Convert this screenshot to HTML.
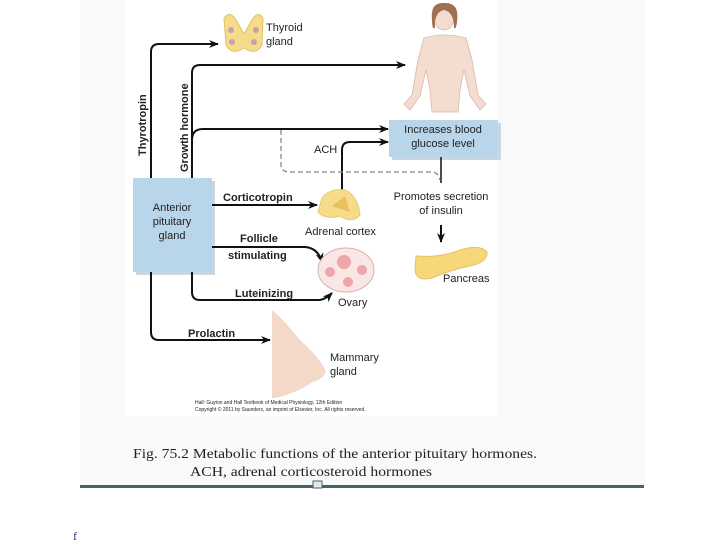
<!DOCTYPE html>
<html><head><meta charset="utf-8"><style>
body{margin:0;width:720px;height:540px;background:#fff;overflow:hidden}
svg{display:block}
.s{font-family:"Liberation Sans",sans-serif;fill:#222}
.b{font-weight:bold}
</style></head><body>
<svg width="720" height="540" viewBox="0 0 720 540">
<defs><marker id="a" markerWidth="10" markerHeight="8" refX="9" refY="4" orient="auto" markerUnits="userSpaceOnUse"><path d="M0,0 L10,4 L0,8 L3,4z" fill="#111"/></marker></defs>
<rect x="80" y="0" width="565" height="486" fill="#f8f9f9"/>
<rect x="125" y="0" width="372" height="416" fill="#fff"/>
<rect x="80" y="485" width="564" height="3" fill="#4b5f66"/>
<rect x="313" y="481" width="9" height="7" fill="#dfeaf0" stroke="#4b5f66" stroke-width="1"/>
<text x="73" y="540" font-size="12" fill="#223399" font-family="Liberation Serif">f</text>

<!-- woman -->
<g fill="#f3ddd0" stroke="#d9b8a8" stroke-width="0.8">
<path d="M424,38 Q445,32 466,38 L472,60 L478,95 L486,104 L480,110 L470,96 L464,70 L460,90 L458,112 L432,112 L430,90 L426,70 L420,96 L410,110 L404,104 L412,95 L418,60z"/>
<ellipse cx="444" cy="18" rx="10" ry="12"/>
</g>
<path d="M432,20 Q430,2 444,3 Q460,2 457,22 Q456,30 454,28 Q454,12 444,10 Q434,12 435,28 Q432,30 432,20z" fill="#a07050"/>

<!-- thyroid -->
<path d="M224,18 Q230,10 236,20 L244,34 L252,20 Q258,10 263,18 L262,45 Q256,56 244,48 Q232,56 226,45z" fill="#f6dc8a" stroke="#e0c060" stroke-width="1"/>
<g fill="#c9a0a8"><circle cx="231" cy="30" r="3"/><circle cx="256" cy="30" r="3"/><circle cx="232" cy="42" r="3"/><circle cx="254" cy="42" r="3"/></g>
<text class="s" x="266" y="31" font-size="11">Thyroid</text>
<text class="s" x="266" y="45" font-size="11">gland</text>

<!-- boxes -->
<rect x="136" y="181" width="79" height="94" fill="#c9d7e2"/>
<rect x="133" y="178" width="79" height="94" fill="#b9d5ea"/>
<text class="s" x="172" y="211" font-size="11" text-anchor="middle">Anterior</text>
<text class="s" x="172" y="225" font-size="11" text-anchor="middle">pituitary</text>
<text class="s" x="172" y="239" font-size="11" text-anchor="middle">gland</text>
<rect x="392" y="123" width="109" height="37" fill="#c9d7e2"/>
<rect x="389" y="120" width="109" height="37" fill="#b9d5ea"/>
<text class="s" x="443" y="133" font-size="11" text-anchor="middle">Increases blood</text>
<text class="s" x="443" y="147" font-size="11" text-anchor="middle">glucose level</text>

<g fill="none" stroke="#111" stroke-width="2">
<path d="M151,178 V52 Q151,44 159,44 H218" marker-end="url(#a)"/>
<path d="M192,178 V73 Q192,65 200,65 H405" marker-end="url(#a)"/>
<path d="M192,140 Q192,129 203,129 H388" marker-end="url(#a)"/>
<path d="M342,190 V150 Q342,142 350,142 H388" marker-end="url(#a)"/>
<path d="M212,205 H317" marker-end="url(#a)"/>
<path d="M212,247 H305 Q318,248 322,262" marker-end="url(#a)"/>
<path d="M192,272 V292 Q192,300 200,300 H320 Q326,299 332,293" marker-end="url(#a)"/>
<path d="M151,272 V332 Q151,340 159,340 H270" marker-end="url(#a)"/>
<path d="M441,157 V183" stroke-width="1.5"/>
<path d="M441,225 V242" marker-end="url(#a)"/>
</g>
<path d="M281,130 V165 Q281,172 290,172 H432 Q438,172 440,180" fill="none" stroke="#888" stroke-width="1.3" stroke-dasharray="5,3"/>

<text class="s b" font-size="11" transform="translate(146,156) rotate(-90)">Thyrotropin</text>
<text class="s b" font-size="11" transform="translate(188,172) rotate(-90)">Growth hormone</text>
<text class="s" x="314" y="153" font-size="11">ACH</text>
<text class="s b" x="223" y="201" font-size="11">Corticotropin</text>
<text class="s b" x="240" y="242" font-size="11">Follicle</text>
<text class="s b" x="228" y="259" font-size="11">stimulating</text>
<text class="s b" x="235" y="297" font-size="11">Luteinizing</text>
<text class="s b" x="188" y="337" font-size="11">Prolactin</text>
<text class="s" x="441" y="200" font-size="11" text-anchor="middle">Promotes secretion</text>
<text class="s" x="441" y="214" font-size="11" text-anchor="middle">of insulin</text>

<!-- adrenal -->
<path d="M322,198 Q330,188 345,190 Q358,196 360,215 Q352,224 340,216 Q325,220 318,212z" fill="#f6dc8a" stroke="#e8c870"/>
<path d="M332,206 L345,196 L350,212z" fill="#e7c060"/>
<text class="s" x="305" y="235" font-size="11">Adrenal cortex</text>
<!-- ovary -->
<ellipse cx="346" cy="270" rx="28" ry="22" fill="#fbe6e6" stroke="#d8b0b0"/>
<g fill="#eea6aa"><circle cx="344" cy="262" r="7"/><circle cx="330" cy="272" r="5"/><circle cx="362" cy="270" r="5"/><circle cx="348" cy="282" r="5"/></g>
<text class="s" x="338" y="306" font-size="11">Ovary</text>
<!-- pancreas -->
<path d="M416,256 Q440,258 460,250 Q480,244 487,252 Q488,262 470,266 Q450,270 432,278 Q416,282 415,270z" fill="#f6d77a" stroke="#e8c060"/>
<text class="s" x="443" y="282" font-size="11">Pancreas</text>
<!-- breast -->
<path d="M272,310 Q282,318 300,340 Q322,360 326,372 Q322,380 312,382 Q300,392 275,398 L272,398z" fill="#f4d8c8"/>
<text class="s" x="330" y="361" font-size="11">Mammary</text>
<text class="s" x="330" y="375" font-size="11">gland</text>

<text class="s" x="195" y="404" font-size="5" fill="#444">Hall: Guyton and Hall Textbook of Medical Physiology, 12th Edition</text>
<text class="s" x="195" y="411" font-size="5" fill="#444">Copyright © 2011 by Saunders, an imprint of Elsevier, Inc. All rights reserved.</text>

<text x="133" y="458" font-size="14" font-family="Liberation Serif" fill="#222" textLength="404" lengthAdjust="spacingAndGlyphs">Fig. 75.2  Metabolic functions of the anterior pituitary hormones.</text>
<text x="190" y="476" font-size="14" font-family="Liberation Serif" fill="#222" textLength="242" lengthAdjust="spacingAndGlyphs">ACH, adrenal corticosteroid hormones</text>
</svg>
</body></html>
